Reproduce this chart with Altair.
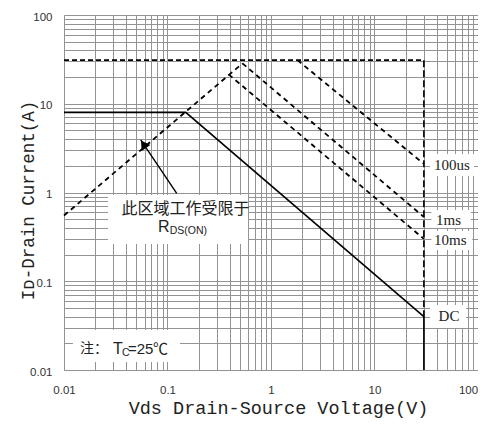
import altair as alt
import pandas as pd

# ---------------- data ----------------
dc_x = [0.01, 0.15, 30, 30]
dc_y = [8, 8, 0.04, 0.01]
rds_x = [0.01, 0.53]
rds_y = [0.55, 28.5]
lim_x = [0.01, 30]
lim_y = [31, 31]
vert_x = [30, 30]
vert_y = [31, 0.04]
us100_x = [1.8, 30]
us100_y = [31, 2.1]
ms1_x = [0.53, 30]
ms1_y = [28.5, 0.53]
ms10_x = [0.39, 30]
ms10_y = [21.4, 0.30]

arrow_x = [0.1228, 0.0551]
arrow_y = [0.98, 3.91]
head_x = [0.0586]
head_y = [3.50]

tick_decades = [-2, -1, 0, 1]
x_ticks = [round(m * 10 ** e, 6) for e in tick_decades for m in range(1, 10)] + [100]
y_ticks = x_ticks

# white label backgrounds (data coordinates)
box_x1 = [0.0266, 0.0122, 34.4, 35.5, 35.5, 34.4]
box_x2 = [0.60, 0.132, 91.4, 85.0, 88.0, 76.6]
box_y1 = [0.263, 0.0123, 1.53, 0.398, 0.225, 0.0297]
box_y2 = [0.94, 0.0282, 2.72, 0.635, 0.368, 0.054]

curve_labels = ["100us", "1ms", "10ms", "DC"]
curve_label_x = [56.1, 52.0, 54.0, 52.5]
curve_label_y = [2.04, 0.49, 0.292, 0.0406]

def line_df(xs, ys):
    return pd.DataFrame({"x": xs, "y": ys, "o": list(range(len(xs)))})

xscale = alt.Scale(type="log", domain=[0.01, 100], nice=False)
yscale = alt.Scale(type="log", domain=[0.01, 100], nice=False)

label_expr = ("indexof(['0.01','0.1','1','10','100'], format(datum.value, '~g')) >= 0"
              " ? format(datum.value, '~g') : ''")

xaxis = alt.Axis(values=x_ticks, labelExpr=label_expr, grid=True, gridColor="#939393",
                 gridWidth=1, ticks=False, tickSize=0, domain=False,
                 labelFont="Liberation Sans", labelFontSize=11.5, labelColor="#333",
                 labelPadding=14, labelOverlap=False, labelFlush=False,
                 labelOffset={"condition": {"test": "datum.value == 100", "value": -10}, "value": 0},
                 title="Vds Drain-Source Voltage(V)", titleFont="Liberation Mono",
                 titleFontSize=18.5, titleFontWeight="normal", titleColor="#222",
                 titleX=214, titleY=37, titleBaseline="middle", titleAlign="center")
yaxis = alt.Axis(values=y_ticks, labelExpr=label_expr, grid=True, gridColor="#939393",
                 gridWidth=1, ticks=False, tickSize=0, domain=False,
                 labelFont="Liberation Sans Narrow, Liberation Sans", labelFontSize=11.5,
                 labelColor="#333", labelPadding=12, labelOffset=2,
                 labelOverlap=False, labelFlush=False,
                 title="Iᴅ-Drain Current(A)", titleFont="Liberation Mono",
                 titleFontSize=17.5, titleFontWeight="normal", titleColor="#222",
                 titleX=-36, titleY=185, titleBaseline="middle", titleAlign="center",
                 titleAngle=270)

X = alt.X("x:Q", scale=xscale, axis=xaxis)
Y = alt.Y("y:Q", scale=yscale, axis=yaxis)

boxes = alt.Chart(pd.DataFrame({"x": box_x1, "x2": box_x2, "y": box_y1, "y2": box_y2})).mark_rect(
    fill="white", stroke=None).encode(x=X, x2="x2:Q", y=Y, y2="y2:Q")

def line(xs, ys, dash=None, width=1.8):
    kw = {"color": "black", "strokeWidth": width}
    if dash:
        kw["strokeDash"] = dash
    return alt.Chart(line_df(xs, ys)).mark_line(**kw).encode(x=X, y=Y, order="o:Q")

lines = [
    line(dc_x, dc_y, None, 1.6),
    line(rds_x, rds_y, [5, 4], 1.8),
    line(lim_x, lim_y, [5, 3], 1.8),
    line(vert_x, vert_y, [7, 3], 1.6),
    line(us100_x, us100_y, [5, 4], 1.8),
    line(ms1_x, ms1_y, [5, 4], 1.8),
    line(ms10_x, ms10_y, [5, 4], 1.8),
]

arrow = alt.Chart(line_df(arrow_x, arrow_y)).mark_line(color="black", strokeWidth=1.4).encode(
    x=X, y=Y, order="o:Q")
head = alt.Chart(pd.DataFrame({"x": head_x, "y": head_y})).mark_point(
    shape="triangle-up", filled=True, color="black", size=110, angle=326, opacity=1).encode(x=X, y=Y)

curve_text = alt.Chart(pd.DataFrame({"x": curve_label_x, "y": curve_label_y, "t": curve_labels})).mark_text(
    font="Liberation Serif", fontSize=15, color="#222", align="center", baseline="middle").encode(
    x=X, y=Y, text="t:N")

def txt(s, x, y, font, size, align="left", weight="normal"):
    return alt.Chart(pd.DataFrame({"x": [x], "y": [y], "t": [s]})).mark_text(
        font=font, fontSize=size, color="#222", align=align, baseline="middle",
        fontWeight=weight).encode(x=X, y=Y, text="t:N")

notes = [
    txt("此区域工作受限于", 0.149, 0.652, "Noto Sans CJK SC", 16, "center"),
    txt("R", 0.0809, 0.408, "Liberation Sans", 16),
    txt("DS(ON)", 0.1050, 0.365, "Liberation Sans", 10.5),
    txt("注：", 0.01429, 0.01725, "Noto Sans CJK SC", 14),
    txt("T", 0.0297, 0.01725, "Liberation Sans", 16, weight=500),
    txt("C", 0.0363, 0.0155, "Liberation Sans", 10.5),
    txt("=25", 0.0415, 0.01725, "Liberation Sans", 15, weight=500),
    txt("℃", 0.0724, 0.01725, "Noto Sans CJK SC", 15),
]

chart = alt.layer(boxes, *lines, arrow, head, curve_text, *notes).properties(
    width=414, height=355,
    padding={"left": 56, "top": 7, "right": 0, "bottom": 49},
    autosize=alt.AutoSizeParams(type="none"),
).configure_view(stroke="black", strokeWidth=2).configure(background="white")

chart.save("out.html", embed_options={"renderer": "svg", "actions": False})
